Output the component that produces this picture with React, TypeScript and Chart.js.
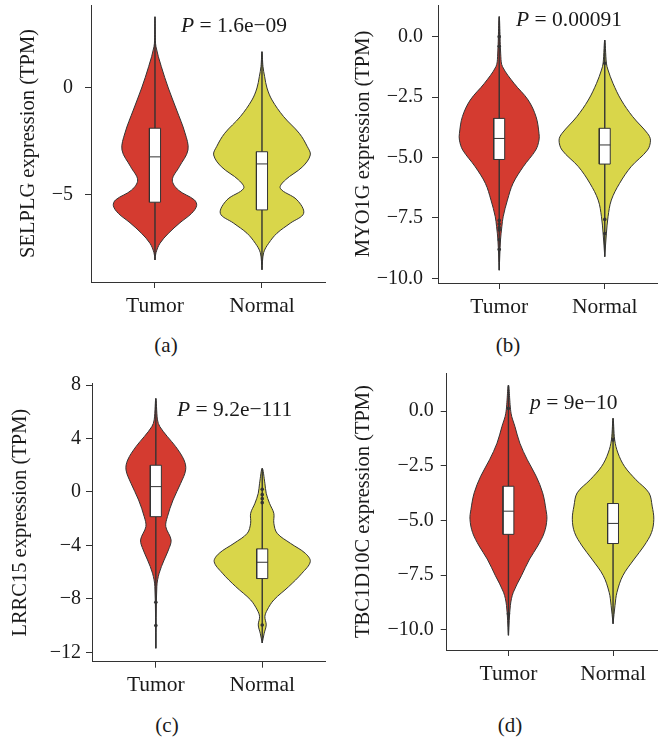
import React, { useEffect, useRef } from "react";
import { Chart, registerables } from "chart.js";

Chart.register(...registerables);

const FONT = "'Liberation Serif', 'Times New Roman', serif";
const TEXT_COLOR = "#1a1a1a";
const LINE_COLOR = "#333333";

const CATEGORIES = ["Tumor", "Normal"];
const FILL_COLORS = ["#d43b30", "#d9d64a"];

// violin profiles: [value, relative density]
const SELPLG_TUMOR = [[3.33,0],[2.5,1],[1.93,3],[1.0,19],[0,40],[-1.03,65],[-2.1,90],[-2.9,99],[-3.68,73],[-4.3,52],[-4.77,70],[-5.23,118],[-5.5,125],[-5.86,110],[-6.3,75],[-6.8,40],[-7.26,15],[-7.7,3],[-8.04,0]];
const SELPLG_NORMAL = [[1.7,0],[1.0,3],[0.53,8],[0,15],[-0.56,30],[-1.34,65],[-2.12,112],[-2.74,136],[-3.13,145],[-3.68,122],[-4.3,70],[-4.69,55],[-5.23,105],[-5.86,125],[-6.32,85],[-6.79,45],[-7.26,20],[-7.7,5],[-8.5,0]];
const MYO1G_TUMOR = [[0.83,0],[-0.83,5],[-1.24,10],[-1.93,45],[-2.62,88],[-3.31,112],[-4.0,121],[-4.28,121],[-4.69,111],[-5.38,73],[-6.07,42],[-6.76,25],[-7.45,12],[-7.86,8],[-8.4,4],[-9.66,0]];
const MYO1G_NORMAL = [[-0.14,0],[-1.1,5],[-1.38,10],[-1.93,25],[-2.62,50],[-3.31,85],[-4.0,130],[-4.28,139],[-4.69,130],[-5.38,80],[-6.07,45],[-6.76,20],[-7.45,10],[-8.14,5],[-9.1,0]];
const LRRC15_TUMOR = [[7.0,0],[5.39,5],[4.89,12],[4.14,35],[3.39,60],[2.39,85],[1.65,90],[0.65,75],[-0.6,52],[-1.85,35],[-2.59,30],[-3.59,46],[-4.34,38],[-5.09,25],[-6.08,10],[-7.08,3],[-11.7,0]];
const LRRC15_NORMAL = [[1.77,0],[0.65,8],[-0.1,12],[-0.85,22],[-1.6,35],[-2.34,35],[-3.09,45],[-3.84,85],[-4.59,130],[-5.21,145],[-6.08,120],[-7.08,80],[-8.08,35],[-8.83,15],[-9.33,8],[-9.95,12],[-10.57,6],[-11.3,0]];
const TBC1D10C_TUMOR = [[1.18,0],[-0.1,8],[-0.71,20],[-1.47,35],[-2.23,58],[-2.98,85],[-3.74,105],[-4.5,115],[-4.95,118],[-5.56,110],[-6.17,90],[-6.77,65],[-7.53,40],[-8.29,15],[-8.89,6],[-10.26,0]];
const TBC1D10C_NORMAL = [[-0.33,0],[-1.32,5],[-1.92,15],[-2.53,35],[-3.14,70],[-3.74,110],[-4.35,120],[-4.95,125],[-5.56,118],[-6.17,95],[-6.77,65],[-7.53,30],[-8.29,12],[-8.89,6],[-9.73,0]];

// box stats: [lower whisker, Q1, median, Q3, upper whisker]
const SELPLG_BOX_TUMOR = [-8.04, -5.34, -3.22, -1.88, 3.33];
const SELPLG_BOX_NORMAL = [-8.5, -5.7, -3.55, -2.98, 1.7];
const MYO1G_BOX_TUMOR = [-9.66, -5.08, -4.21, -3.38, 0.83];
const MYO1G_BOX_NORMAL = [-9.1, -5.27, -4.48, -3.79, -0.14];
const LRRC15_BOX_TUMOR = [-11.7, -1.85, 0.4, 2.0, 7.0];
const LRRC15_BOX_NORMAL = [-11.3, -6.48, -5.26, -4.26, 1.77];
const TBC1D10C_BOX_TUMOR = [-10.26, -5.64, -4.58, -3.44, 1.18];
const TBC1D10C_BOX_NORMAL = [-9.73, -6.06, -5.14, -4.23, -0.33];

// outliers
const SELPLG_OUT_TUMOR: number[] = [];
const SELPLG_OUT_NORMAL: number[] = [];
const MYO1G_OUT_TUMOR = [0.0, -0.4, -7.6, -7.75, -7.9, -8.0, -8.4, -8.8];
const MYO1G_OUT_NORMAL = [-1.1, -7.56, -8.14];
const LRRC15_OUT_TUMOR = [-8.25, -10.0];
const LRRC15_OUT_NORMAL = [0.2, -0.2, -0.5, -0.8, -9.95];
const TBC1D10C_OUT_TUMOR = [0.12, -9.27];
const TBC1D10C_OUT_NORMAL = [-1.32];

// y ticks
const A_TICKS = [0, -5];
const A_TICK_LABELS = ["0", "\u22125"];
const B_TICKS = [0, -2.5, -5, -7.5, -10];
const B_TICK_LABELS = ["0.0", "\u22122.5", "\u22125.0", "\u22127.5", "\u221210.0"];
const C_TICKS = [8, 4, 0, -4, -8, -12];
const C_TICK_LABELS = ["8", "4", "0", "\u22124", "\u22128", "\u221212"];
const D_TICKS = [0, -2.5, -5, -7.5, -10];
const D_TICK_LABELS = ["0.0", "\u22122.5", "\u22125.0", "\u22127.5", "\u221210.0"];

const DENSITY_SCALE = 1 / 321;
const BOX_HALF = 0.052;

type Panel = {
  gene: string;
  pLetter: string;
  pText: string;
  caption: string;
  profiles: number[][][];
  boxes: number[][];
  outliers: number[][];
  ticks: number[];
  tickLabels: string[];
  yMin: number;
  yMax: number;
  xMin: number;
  xMax: number;
  left: number;
  top: number;
  w: number;
  h: number;
  area: { left: number; top: number; right: number; bottom: number };
  tickPad: number;
  titlePad: number;
  pPos: { left: number; top: number };
  capPos: { x: number; y: number };
};

const PANELS: Panel[] = [
  {
    gene: "SELPLG", pLetter: "P", pText: " = 1.6e\u221209", caption: "(a)",
    profiles: [SELPLG_TUMOR, SELPLG_NORMAL], boxes: [SELPLG_BOX_TUMOR, SELPLG_BOX_NORMAL],
    outliers: [SELPLG_OUT_TUMOR, SELPLG_OUT_NORMAL], ticks: A_TICKS, tickLabels: A_TICK_LABELS,
    yMin: -9.07, yMax: 3.88, xMin: 0.402, xMax: 2.589,
    left: 0, top: 0, w: 330, h: 330, area: { left: 91, top: 5, right: 325, bottom: 282 },
    tickPad: 12, titlePad: 16, pPos: { left: 181, top: 13 }, capPos: { x: 166, y: 345 },
  },
  {
    gene: "MYO1G", pLetter: "P", pText: " = 0.00091", caption: "(b)",
    profiles: [MYO1G_TUMOR, MYO1G_NORMAL], boxes: [MYO1G_BOX_TUMOR, MYO1G_BOX_NORMAL],
    outliers: [MYO1G_OUT_TUMOR, MYO1G_OUT_NORMAL], ticks: B_TICKS, tickLabels: B_TICK_LABELS,
    yMin: -10.19, yMax: 1.31, xMin: 0.42, xMax: 2.495,
    left: 330, top: 0, w: 331, h: 330, area: { left: 108, top: 5, right: 330, bottom: 283 },
    tickPad: 9, titlePad: 21, pPos: { left: 516, top: 7 }, capPos: { x: 508, y: 345 },
  },
  {
    gene: "LRRC15", pLetter: "P", pText: " = 9.2e\u2212111", caption: "(c)",
    profiles: [LRRC15_TUMOR, LRRC15_NORMAL], boxes: [LRRC15_BOX_TUMOR, LRRC15_BOX_NORMAL],
    outliers: [LRRC15_OUT_TUMOR, LRRC15_OUT_NORMAL], ticks: C_TICKS, tickLabels: C_TICK_LABELS,
    yMin: -12.7, yMax: 8.1, xMin: 0.4, xMax: 2.59,
    left: 0, top: 360, w: 330, h: 340, area: { left: 92, top: 23.7, right: 325, bottom: 301.7 },
    tickPad: 5, titlePad: 8, pPos: { left: 177, top: 397 }, capPos: { x: 167, y: 725 },
  },
  {
    gene: "TBC1D10C", pLetter: "p", pText: " = 9e\u221210", caption: "(d)",
    profiles: [TBC1D10C_TUMOR, TBC1D10C_NORMAL], boxes: [TBC1D10C_BOX_TUMOR, TBC1D10C_BOX_NORMAL],
    outliers: [TBC1D10C_OUT_TUMOR, TBC1D10C_OUT_NORMAL], ticks: D_TICKS, tickLabels: D_TICK_LABELS,
    yMin: -10.93, yMax: 1.74, xMin: 0.41, xMax: 2.42,
    left: 330, top: 360, w: 331, h: 340, area: { left: 116.7, top: 13, right: 330, bottom: 290 },
    tickPad: 7, titlePad: 21, pPos: { left: 530, top: 390 }, capPos: { x: 510, y: 725 },
  },
];

function violinPoints(center: number, profile: number[][]) {
  const asc = profile.slice().sort((a, b) => a[0] - b[0]);
  const right = asc.map(([v, d]) => ({ x: center + d * DENSITY_SCALE, y: v }));
  const left = asc.slice().reverse().map(([v, d]) => ({ x: center - d * DENSITY_SCALE, y: v }));
  return right.concat(left.slice(1));
}

function buildDatasets(p: Panel) {
  const ds: any[] = [];
  p.profiles.forEach((profile, i) => {
    const c = i + 1;
    const box = p.boxes[i];
    ds.push({
      data: violinPoints(c, profile), showLine: true, fill: "shape",
      backgroundColor: FILL_COLORS[i], borderColor: LINE_COLOR, borderWidth: 1,
      pointRadius: 0, tension: 0.35, order: 4, borderJoinStyle: "round",
    });
    ds.push({
      data: [{ x: c, y: box[0] }, { x: c, y: box[4] }], showLine: true,
      borderColor: LINE_COLOR, borderWidth: 1.4, pointRadius: 0, order: 3,
    });
    ds.push({
      data: [
        { x: c - BOX_HALF, y: box[1] }, { x: c + BOX_HALF, y: box[1] },
        { x: c + BOX_HALF, y: box[3] }, { x: c - BOX_HALF, y: box[3] },
        { x: c - BOX_HALF, y: box[1] },
      ],
      showLine: true, fill: "shape", backgroundColor: "#ffffff",
      borderColor: LINE_COLOR, borderWidth: 1, pointRadius: 0, tension: 0, order: 2,
    });
    ds.push({
      data: [{ x: c - BOX_HALF, y: box[2] }, { x: c + BOX_HALF, y: box[2] }], showLine: true,
      borderColor: LINE_COLOR, borderWidth: 1, pointRadius: 0, order: 1,
    });
    ds.push({
      data: p.outliers[i].map((v) => ({ x: c, y: v })), showLine: false,
      pointRadius: 1.8, pointBackgroundColor: LINE_COLOR, pointBorderWidth: 0, order: 0,
    });
  });
  return ds;
}

function ViolinPanel({ p }: { p: Panel }) {
  const ref = useRef<HTMLCanvasElement>(null);
  useEffect(() => {
    const chart = new Chart(ref.current as HTMLCanvasElement, {
      type: "scatter",
      data: { datasets: buildDatasets(p) },
      options: {
        animation: false,
        responsive: false,
        devicePixelRatio: 1,
        layout: { padding: { left: 0, top: p.area.top, right: p.w - p.area.right, bottom: 0 } },
        plugins: { legend: { display: false }, tooltip: { enabled: false } },
        scales: {
          x: {
            type: "linear", bounds: "data", min: p.xMin, max: p.xMax, position: "bottom",
            grid: { drawOnChartArea: false, drawTicks: true, tickLength: 6, color: LINE_COLOR, lineWidth: 1 },
            border: { display: true, color: LINE_COLOR, width: 1 },
            ticks: {
              font: { family: FONT, size: 21.5 }, color: TEXT_COLOR, padding: 5, maxRotation: 0, autoSkip: false,
              callback: (v: any) => CATEGORIES[Math.round(Number(v)) - 1] ?? "",
            },
            afterBuildTicks: (s: any) => { s.ticks = CATEGORIES.map((_, i) => ({ value: i + 1 })); },
            afterFit: (s: any) => { s.height = p.h - p.area.bottom; s.paddingLeft = 0; s.paddingRight = 0; },
          },
          y: {
            type: "linear", bounds: "data", min: p.yMin, max: p.yMax,
            grid: { drawOnChartArea: false, drawTicks: true, tickLength: 6, color: LINE_COLOR, lineWidth: 1 },
            border: { display: true, color: LINE_COLOR, width: 1 },
            ticks: {
              font: { family: FONT, size: 20 }, color: TEXT_COLOR, padding: p.tickPad, autoSkip: false,
              callback: (_v: any, i: number) => p.tickLabels[i],
            },
            afterBuildTicks: (s: any) => { s.ticks = p.ticks.map((value) => ({ value })); },
            afterFit: (s: any) => { s.width = p.area.left; s.paddingTop = 0; s.paddingBottom = 0; },
            title: {
              display: true, text: `${p.gene} expression (TPM)`,
              font: { family: FONT, size: 20.5 }, color: TEXT_COLOR, padding: { top: p.titlePad, bottom: 0 },
            },
          },
        },
      } as any,
    });
    return () => chart.destroy();
  }, []);
  return (
    <canvas
      ref={ref}
      width={p.w}
      height={p.h}
      style={{ position: "absolute", left: p.left, top: p.top, width: p.w, height: p.h, display: "block" }}
    />
  );
}

export default function App() {
  const textStyle: React.CSSProperties = {
    position: "absolute", fontFamily: FONT, fontSize: 21.5, lineHeight: "24px",
    color: TEXT_COLOR, whiteSpace: "nowrap",
  };
  return (
    <div style={{ position: "absolute", left: 0, top: 0, width: 661, height: 737, background: "#fff", overflow: "hidden" }}>
      {PANELS.map((p) => (
        <React.Fragment key={p.gene}>
          <ViolinPanel p={p} />
          <div style={{ ...textStyle, left: p.pPos.left, top: p.pPos.top }}>
            <span style={{ fontStyle: "italic" }}>{p.pLetter}</span>{p.pText}
          </div>
          <div style={{ ...textStyle, fontSize: 21, left: p.capPos.x - 50, width: 100, textAlign: "center", top: p.capPos.y - 12 }}>
            {p.caption}
          </div>
        </React.Fragment>
      ))}
    </div>
  );
}
